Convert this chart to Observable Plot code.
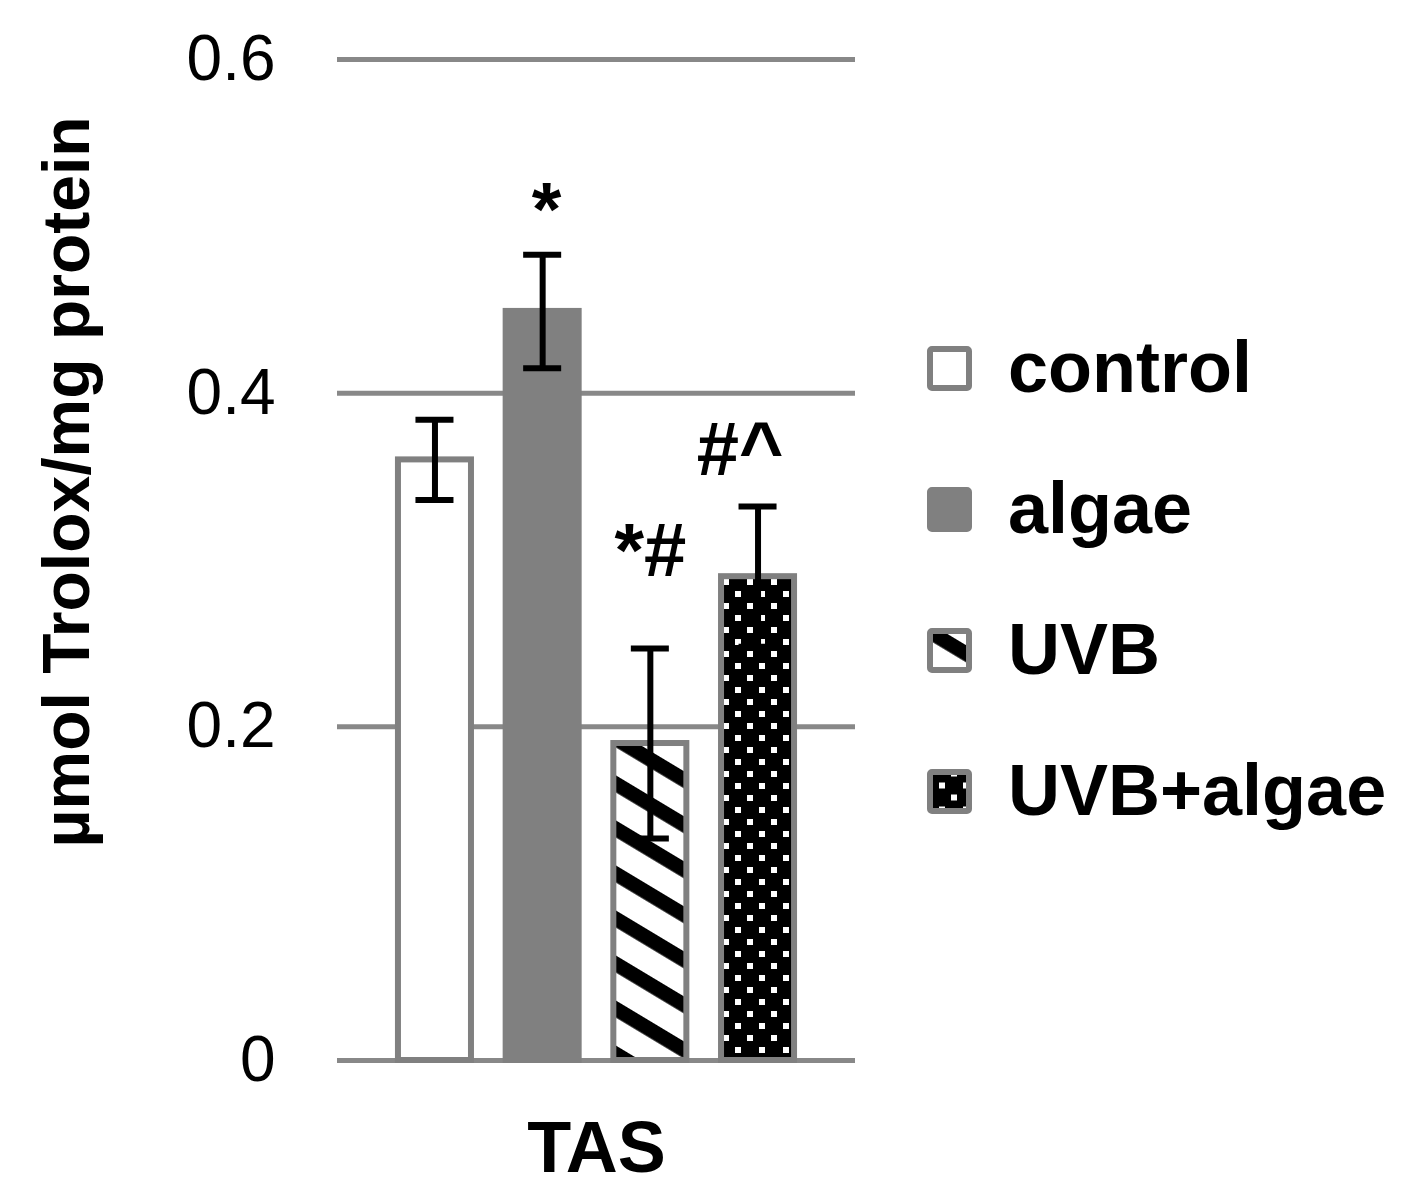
<!DOCTYPE html>
<html><head><meta charset="utf-8">
<script src="https://cdn.jsdelivr.net/npm/d3@7"></script>
<script src="https://cdn.jsdelivr.net/npm/@observablehq/plot@0.6"></script>
<style>
html,body{margin:0;padding:0;background:#fff;}
#wrap{position:relative;width:1419px;height:1202px;font-family:"Liberation Sans",Arial,sans-serif;}
#chart{position:absolute;left:0;top:0;}
#legend{position:absolute;left:900px;top:320px;}
</style></head><body>
<div id="wrap">
<svg width="0" height="0" style="position:absolute;left:0;top:0">
  <defs>
    <pattern id="stripes" patternUnits="userSpaceOnUse" width="10" height="38.6" patternTransform="rotate(31)">
      <rect x="0" y="0" width="10" height="38.6" fill="#ffffff"></rect>
      <rect x="0" y="0" width="10" height="14.6" fill="#000000"></rect>
    </pattern>
    <pattern id="dots" patternUnits="userSpaceOnUse" width="24" height="24">
      <rect x="0" y="0" width="24" height="24" fill="#000000"></rect>
      <rect x="3" y="3" width="6" height="6" fill="#ffffff"></rect>
      <rect x="15" y="15" width="6" height="6" fill="#ffffff"></rect>
    </pattern>
  </defs>
</svg>
<div id="chart"></div>
<div id="legend"></div>
</div>
<script>
// ---- data ----
const categories = ["TAS"];
const series = ["control", "algae", "UVB", "UVB+algae"];
const means = [0.36, 0.449, 0.19, 0.29];
const errors = [0.024, 0.034, 0.057, 0.042];
const significance = ["", "*", "*#", "#^"];
const yTicks = [0, 0.2, 0.4, 0.6];
const yLabel = "µmol Trolox/mg protein";
// ---- styles ----
const fills = ["#ffffff", "#808080", "url(#stripes)", "url(#dots)"];
const FONT = "Liberation Sans, Arial, sans-serif";

const data = series.map((s, i) => ({
  category: categories[0], series: s, mean: means[i], err: errors[i], sig: significance[i]
}));

function sigMark(label, dx, dy) {
  return Plot.text(data.filter(d => d.sig === label), {
    fx: "category", x: "series", y: d => d.mean + d.err, text: "sig",
    fontSize: 76, fontWeight: "bold", fill: "black", dx, dy
  });
}

const chart = Plot.plot({
  width: 900, height: 1202,
  marginLeft: 337, marginRight: 45, marginTop: 59, marginBottom: 142,
  style: {fontFamily: FONT, background: "transparent", overflow: "visible"},
  fx: {domain: categories, padding: 0, label: null, axis: null},
  x: {domain: series, paddingInner: 0.322, paddingOuter: 0.566, round: false, axis: null},
  y: {domain: [0, 0.6], axis: null},
  color: {type: "ordinal", domain: series, range: fills},
  marks: [
    Plot.ruleY(yTicks, {stroke: "#888888", strokeWidth: 5}),
    Plot.axisY({ticks: yTicks, tickSize: 0, tickPadding: 62, tickFormat: d => String(d), fontSize: 64, label: null}),
    Plot.axisFx({anchor: "bottom", tickSize: 0, tickPadding: 60, fontSize: 72, fontWeight: "bold", label: null}),
    Plot.barY(data, {fx: "category", x: "series", y: "mean", fill: "series", stroke: "#808080", strokeWidth: 6}),
    Plot.ruleX(data, {fx: "category", x: "series", y1: d => d.mean - d.err, y2: d => d.mean + d.err, stroke: "black", strokeWidth: 6}),
    Plot.tickY(data, {fx: "category", x: "series", y: d => d.mean + d.err, stroke: "black", strokeWidth: 6, insetLeft: 17.5, insetRight: 17.5}),
    Plot.tickY(data, {fx: "category", x: "series", y: d => d.mean - d.err, stroke: "black", strokeWidth: 6, insetLeft: 17.5, insetRight: 17.5}),
    sigMark("*", 4, -44),
    sigMark("*#", 0, -97),
    sigMark("#^", -18, -56),
    Plot.text([yLabel], {frameAnchor: "left", text: d => d, textAnchor: "middle", rotate: -90, dx: -270, dy: -78, fontSize: 66, fontWeight: "bold", fill: "black"})
  ]
});
document.getElementById("chart").appendChild(chart);

// ---- legend ----
const lg = d3.select("#legend").append("svg")
  .attr("width", 519).attr("height", 560)
  .style("font-family", FONT);
const rows = lg.selectAll("g").data(series).join("g")
  .attr("transform", (d, i) => `translate(0,${48.5 + i * 141})`);
rows.append("rect")
  .attr("x", 30).attr("y", -19.5).attr("width", 39).attr("height", 39)
  .attr("rx", 2)
  .attr("fill", (d, i) => fills[i])
  .attr("stroke", "#808080").attr("stroke-width", 6);
rows.append("text")
  .attr("x", 108).attr("y", 23.5)
  .attr("font-size", 72).attr("font-weight", "bold").attr("fill", "black")
  .text(d => d);
</script>
</body></html>
